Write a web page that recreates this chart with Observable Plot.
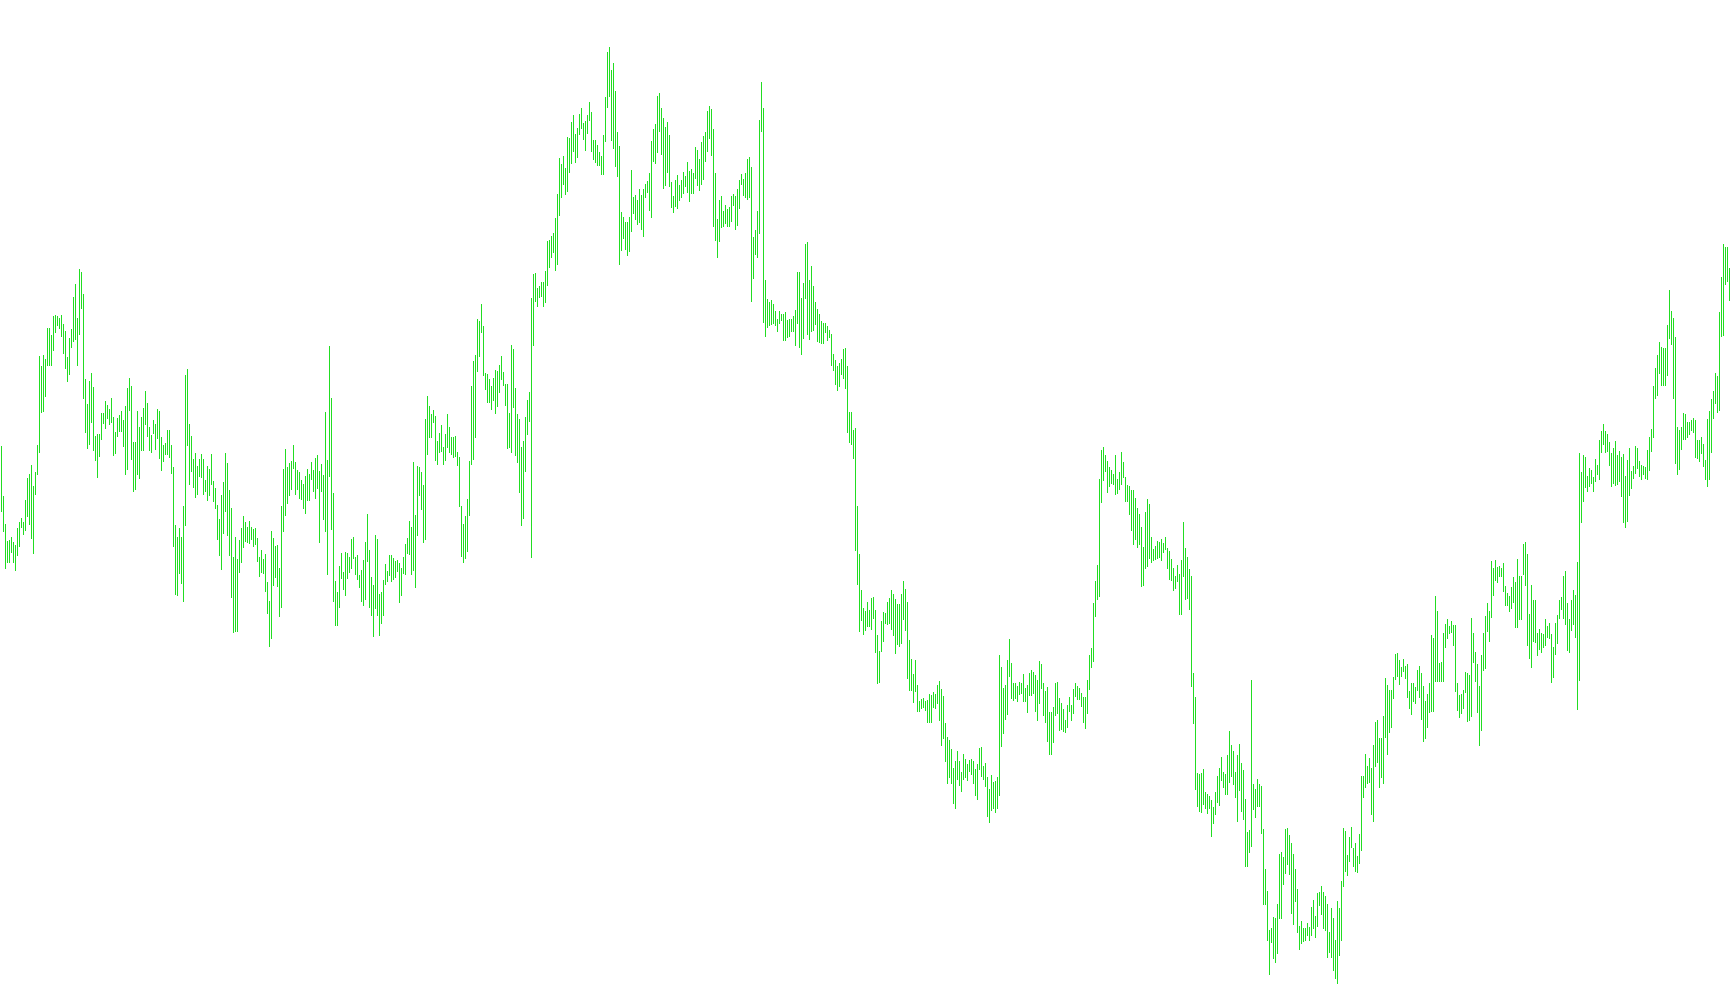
<!DOCTYPE html>
<html><head><meta charset="utf-8">
<script src="https://cdn.jsdelivr.net/npm/d3@7"></script>
<script src="https://cdn.jsdelivr.net/npm/@observablehq/plot@0.6"></script>
<style>html,body{margin:0;padding:0;background:#fff;overflow:hidden}svg{display:block}</style>
</head><body><div id="chart"></div>
<script>
// Bar highs (price units), one per period
const highs = [
559,509,481,464,465,468,463,460,477,483,
487,483,505,527,531,540,519,533,560,649,
639,650,646,677,677,670,689,690,689,687,
690,681,674,648,667,676,708,721,687,736,
733,711,626,601,624,632,618,569,571,571,
592,592,604,600,596,607,588,573,587,590,
594,585,599,617,627,619,563,563,594,578,
588,597,614,602,578,570,585,581,596,594,
568,560,562,575,575,560,538,480,468,477,
468,499,630,636,581,569,546,552,539,546,
551,546,525,539,536,551,524,517,
500,486,510,523,552,542,515,497,448,468,
446,465,477,489,483,478,484,478,476,477,
467,448,455,446,451,423,404,474,467,459,
460,437,499,536,556,538,542,544,560,543,
535,533,525,521,529,536,531,543,535,547,
550,534,541,530,593,545,659,607,512,424,
413,439,452,433,453,452,448,466,468,448,
450,430,435,445,463,491,455,428,420,470,
466,411,413,425,441,434,450,450,447,444,
445,442,437,448,461,467,484,478,543,490,
539,538,533,520,586,609,599,591,
595,589,564,572,580,558,571,591,578,568,
568,569,553,548,499,481,489,506,544,619,
644,650,686,684,701,679,632,631,626,619,
627,635,634,640,649,633,621,621,592,660,
656,617,591,586,558,564,588,605,613,707,
731,732,717,719,723,723,734,764,765,769,
772,787,811,847,841,849,837,868,867,883,
890,871,877,891,897,882,884,890,903,893,
865,865,860,853,849,870,908,953,958,935,
942,914,873,859,793,788,783,783,788,835,
808,810,805,816,810,816,821,824,
832,864,876,881,909,912,897,887,878,883,
870,823,809,825,830,820,825,833,829,843,
834,836,832,858,855,846,863,869,873,894,
899,896,876,832,786,805,809,794,800,796,
798,809,811,809,816,825,831,826,832,846,
848,838,768,775,794,885,923,897,725,706,
703,705,701,694,686,694,691,691,693,685,
686,686,689,695,733,733,707,722,761,763,
725,739,719,703,696,691,684,682,682,679,
675,671,651,645,639,642,646,656,657,639,
593,593,575,577,499,451,415,397,
394,403,395,407,408,395,370,354,384,393,
392,403,407,415,411,406,401,401,411,424,
416,403,365,346,331,345,320,304,306,307,
304,305,311,310,313,311,320,324,316,309,
282,268,265,256,237,244,254,244,233,251,
246,241,245,246,244,236,241,257,258,239,
242,228,216,230,223,224,228,350,338,317,
320,345,366,342,322,322,319,323,322,331,
317,320,332,335,333,330,325,344,341,322,
314,318,293,293,298,322,323,307,302,296,
285,300,308,300,316,322,319,317,
312,308,308,325,350,357,402,424,440,526,
555,558,550,544,538,535,531,550,526,533,
553,543,528,520,519,515,515,507,497,491,
478,458,493,506,501,468,456,459,464,463,
466,462,468,457,454,446,437,429,440,431,
445,483,457,448,436,429,332,308,232,231,
232,236,213,211,209,205,198,213,229,237,
248,233,231,250,274,260,254,233,250,261,
242,235,206,173,175,325,221,216,226,221,
219,176,136,114,75,77,88,87,101,151,
153,148,176,177,170,162,151,136,
116,79,84,77,77,82,78,98,105,89,
112,113,119,113,109,101,73,97,87,65,
104,97,124,177,174,150,168,178,157,162,
149,171,229,229,251,239,247,237,260,283,
285,267,267,289,327,320,315,315,328,351,
352,345,338,346,339,341,314,322,322,318,
335,339,332,319,304,311,322,370,367,409,
394,342,343,372,381,386,379,384,380,380,
322,310,311,315,333,332,330,387,372,353,
341,319,350,372,389,402,394,444,437,445,
438,439,437,442,419,412,409,418,
428,423,446,429,429,461,463,451,391,420,
405,405,372,376,372,371,386,379,382,371,
358,382,390,405,408,429,434,402,386,405,
415,410,443,552,533,550,548,529,537,535,
528,546,540,565,574,581,574,571,563,552,
557,564,550,554,548,551,529,545,557,534,
539,559,557,544,540,539,538,555,568,576,
619,637,650,663,658,657,657,680,715,694,
687,668,578,575,578,592,591,583,583,585,
587,585,565,565,568,561,545,586,594,606,
614,632,629,693,728,761,758,758,737
];
// Bar lows (price units)
const lows = [
493,473,436,442,442,452,442,434,449,458,
477,470,474,488,480,466,451,510,530,552,
592,593,608,639,639,639,654,672,679,676,
668,651,636,623,630,657,663,665,639,670,
696,606,572,556,560,582,554,544,527,548,
565,581,576,586,580,582,549,551,568,573,
573,558,530,535,594,545,513,515,530,526,
554,554,580,568,554,552,571,555,566,546,
534,543,550,550,547,531,458,410,409,431,
421,403,479,559,520,533,517,507,510,528,
527,510,513,504,509,520,503,496,
465,449,435,471,493,469,449,407,372,373,
373,432,442,457,463,462,461,465,458,460,
443,428,432,431,413,391,358,366,419,427,
418,388,397,473,489,501,509,515,536,510,
515,506,505,496,491,504,504,525,513,506,
516,462,513,485,473,430,528,475,403,379,
379,397,426,415,409,426,432,436,446,430,
425,417,403,399,405,443,397,389,368,396,
389,369,381,389,420,423,429,423,425,427,
433,402,409,431,430,451,450,430,434,417,
469,509,495,462,465,550,567,567,
582,544,540,552,553,540,544,557,552,550,
547,548,539,498,448,442,446,453,489,540,
545,567,633,648,672,629,615,602,602,595,
604,591,598,612,625,619,599,556,557,552,
597,549,542,512,479,486,533,570,583,447,
659,703,698,707,708,698,702,719,737,747,
752,734,740,789,807,820,810,813,832,841,
853,842,847,870,876,865,854,871,884,853,
845,842,839,839,830,830,863,897,908,864,
856,838,828,740,754,766,755,749,753,773,
791,785,780,782,775,768,807,812,
794,787,843,841,852,873,850,816,819,832,
818,797,792,798,796,804,807,811,818,812,
803,811,811,826,819,814,820,825,843,853,
866,849,778,764,747,763,777,778,781,778,
778,783,799,775,779,796,820,809,807,805,
807,703,726,750,747,771,873,682,668,677,
679,680,681,679,673,681,684,664,664,667,
668,673,673,659,681,657,650,666,706,670,
665,673,674,680,663,662,661,661,672,664,
667,639,634,620,614,618,630,626,616,572,
562,560,546,454,420,373,384,370,
374,378,378,375,386,352,321,322,353,363,
381,380,381,375,369,351,360,358,361,385,
374,326,314,314,302,313,293,293,296,297,
294,282,282,282,297,296,301,284,259,266,
243,221,227,221,201,196,225,219,213,225,
227,224,233,230,221,209,205,235,228,225,
218,188,182,194,196,192,196,209,258,271,
285,290,328,306,304,306,303,310,311,303,
303,292,309,309,311,293,284,301,316,289,
282,263,250,250,262,289,291,274,275,273,
272,277,293,284,291,308,305,305,
298,282,276,291,315,337,343,388,405,408,
502,524,533,512,518,521,520,510,511,515,
520,527,503,503,490,474,460,465,457,460,
418,419,436,438,446,442,444,445,446,447,
444,452,455,436,425,424,414,416,423,390,
390,428,405,406,395,318,281,215,198,193,
192,200,196,191,196,168,181,190,202,199,
224,217,210,210,222,228,220,207,183,214,
193,185,138,138,152,158,195,187,198,198,
171,100,100,64,30,62,46,42,51,86,
86,120,131,140,130,91,80,103,
72,55,61,63,64,69,64,69,76,67,
78,99,90,76,74,47,52,47,34,26,
21,49,64,118,133,129,143,157,138,133,
132,141,154,207,217,221,222,190,183,238,
242,217,227,221,267,250,272,277,306,325,
328,320,328,333,326,307,296,290,303,301,
314,307,285,263,266,277,292,293,293,323,
323,323,323,323,357,366,371,372,359,313,
294,287,291,296,312,283,284,288,342,323,
292,259,274,334,336,373,363,387,409,424,
422,428,428,413,399,399,393,396,
402,377,377,385,385,430,419,359,346,337,
363,362,349,355,352,357,359,367,366,322,
327,350,361,386,395,386,380,354,352,374,
380,367,295,324,482,503,517,513,518,521,
513,523,530,525,552,560,552,553,539,518,
521,519,520,523,508,482,477,483,509,516,
526,531,536,528,525,530,526,525,534,553,
567,606,609,631,619,619,619,629,666,660,
606,541,530,535,555,565,565,567,570,574,
572,547,546,543,551,538,525,518,525,552,
586,601,592,594,668,669,720,723,704
];

const bars = highs.map((h, i) => ({period: i, high: h, low: lows[i]}));

const chart = Plot.plot({
  width: 1730,
  height: 1005,
  margin: 0,
  x: {type: "linear", domain: [0, highs.length - 1], range: [1, 1729], axis: null},
  y: {domain: [0, 1005], range: [1005, 0], axis: null},
  style: {background: "#ffffff"},
  marks: [
    Plot.ruleX(bars, {x: "period", y1: "low", y2: "high", stroke: "#22dd22", strokeWidth: 1, shapeRendering: "crispEdges"})
  ]
});
document.getElementById("chart").appendChild(chart);
</script></body></html>
